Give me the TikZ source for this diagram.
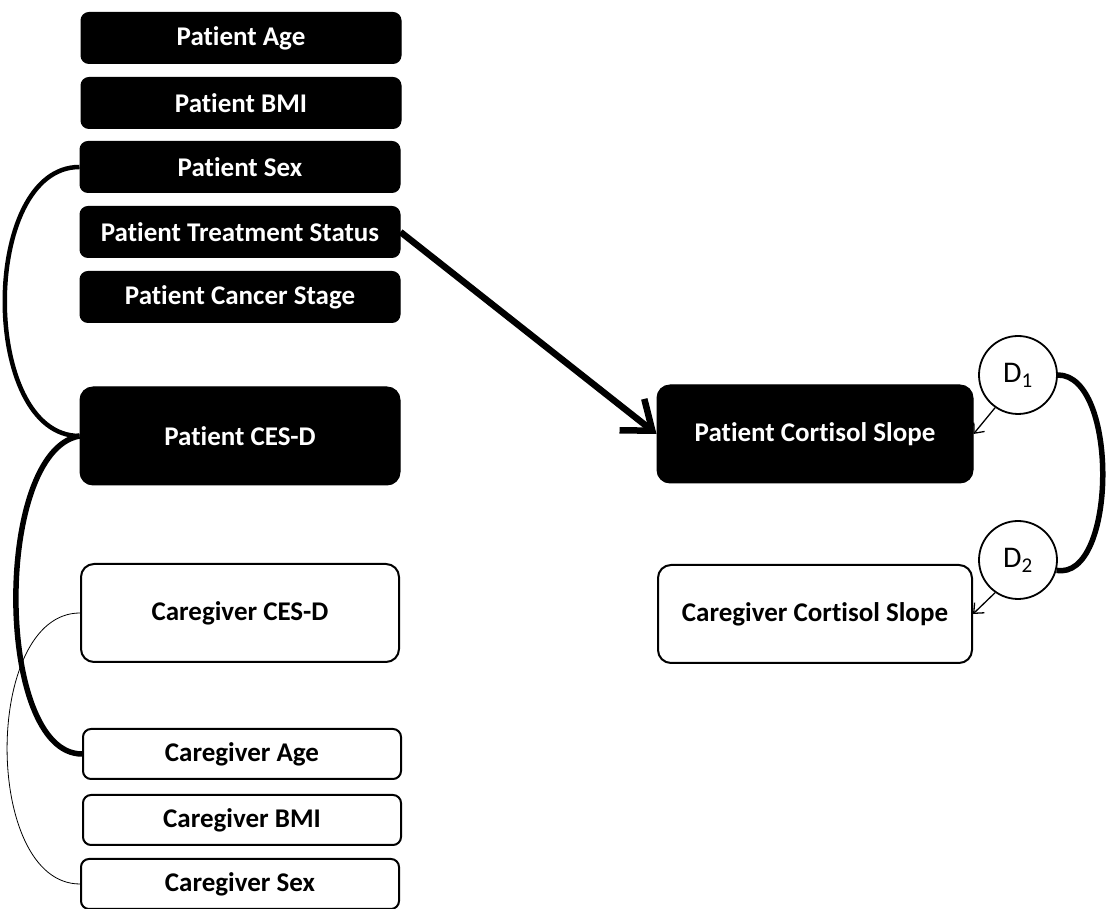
\documentclass[tikz,border=0pt]{standalone}
\usepackage{fontspec}
\setmainfont[Ligatures=NoCommon]{Carlito}
\usepackage{tikz}
\usetikzlibrary{arrows.meta}

\begin{document}
\begin{tikzpicture}[x=1pt, y=1pt,
    patbox/.style={draw=black, fill=black, text=white, rounded corners=8pt, line width=1pt,
      minimum width=320pt, minimum height=51pt, font=\fontsize{27}{31}\selectfont\bfseries},
    carebox/.style={draw=black, fill=white, text=black, rounded corners=8pt, line width=2pt,
      minimum width=318pt, minimum height=50pt, font=\fontsize{27}{31}\selectfont\bfseries},
    bigbox/.style={minimum height=98pt, rounded corners=13pt},
    errnode/.style={draw=black, circle, line width=1.8pt, minimum size=78pt, inner sep=0pt,
      font=\fontsize{30}{34}\selectfont}]
  \useasboundingbox (0,0) rectangle (1112,909);
  % patient side
  \node[patbox] (pAge)   at (241,871) {Patient Age};
  \node[patbox] (pBMI)   at (241,806) {Patient BMI};
  \node[patbox] (pSex)   at (240,742) {Patient Sex};
  \node[patbox] (pTreat) at (240,677) {Patient Treatment Status};
  \node[patbox] (pStage) at (240,612) {Patient Cancer Stage};
  \node[patbox, bigbox] (pCESD) at (240,473) {Patient CES-D};
  \node[patbox, bigbox, minimum width=316pt] (pCort) at (815,475) {Patient Cortisol Slope};
  % caregiver side
  \node[carebox, bigbox] (cCESD) at (240,296) {Caregiver CES-D};
  \node[carebox] (cAge) at (242,155) {Caregiver Age};
  \node[carebox] (cBMI) at (242,89)  {Caregiver BMI};
  \node[carebox] (cSex) at (240,25)  {Caregiver Sex};
  \node[carebox, bigbox, minimum width=314pt] (cCort) at (815,295) {Caregiver Cortisol Slope};
  % disturbances
  \node[errnode] (D1) at (1018,534) {D\textsubscript{1}};
  \node[errnode] (D2) at (1018,349) {D\textsubscript{2}};

  \path[-{Straight Barb[length=26pt, width=40pt]}, line width=6.5pt]
  (pTreat.east) edge (pCort.west);
  \path[-{Straight Barb[length=8pt, width=14pt]}, line width=1.3pt]
  (D1.235) edge (pCort.east)
  (D2.235) edge (cCort.east);
  \path[line width=4.5pt]
  (pSex.west)  edge[out=180, in=180, looseness=0.95] (pCESD.west);
  \path[line width=5.5pt]
  (D1.east)    edge[out=0, in=-10, looseness=0.8]    (D2.-15)
  (pCESD.west) edge[out=190, in=180, looseness=0.7]  (cAge.west);
  \path[line width=0.8pt]
  (cCESD.west) edge[out=180, in=180, looseness=0.92] (cSex.west);
\end{tikzpicture}
\end{document}
